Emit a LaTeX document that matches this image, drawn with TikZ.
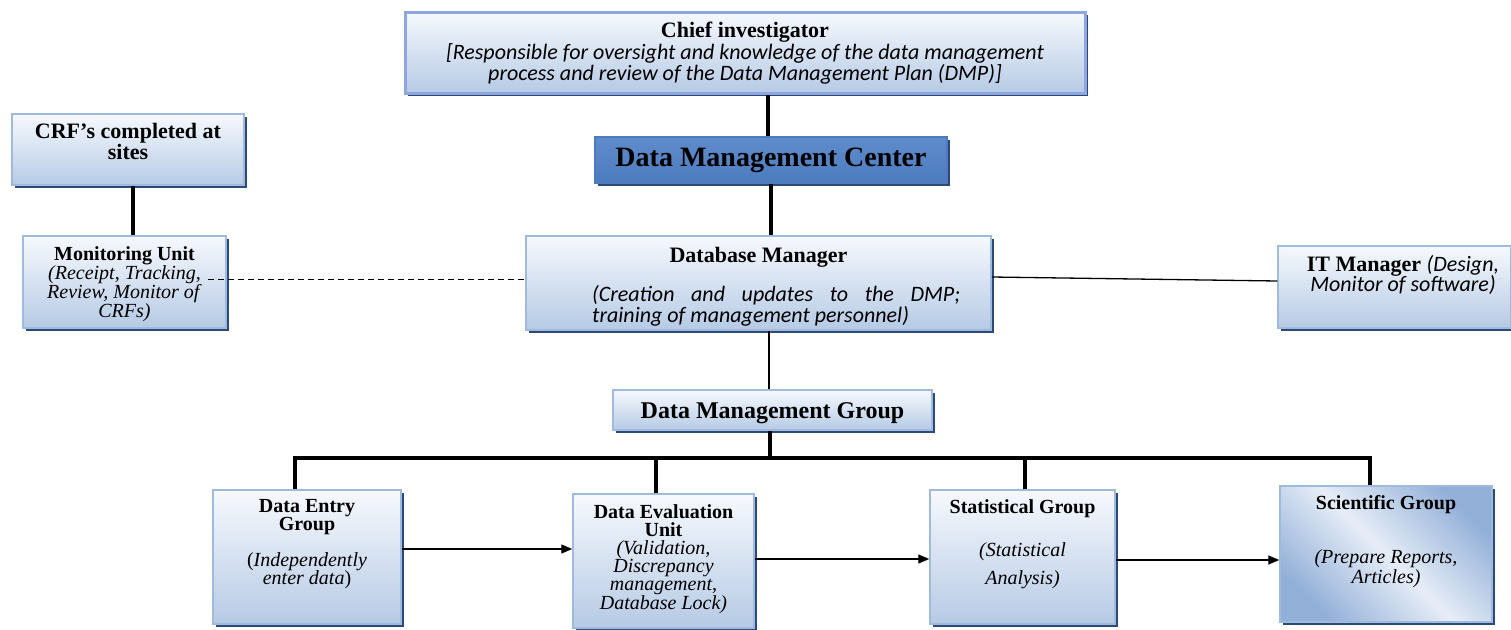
\documentclass[tikz,border=0pt]{standalone}
\usepackage{fontspec}
\setmainfont{Liberation Serif}
\newfontfamily\calfont{Carlito}
\usetikzlibrary{shadows,arrows.meta}
\definecolor{boxborder}{HTML}{9FBADD}
\definecolor{topc}{HTML}{F6F9FD}
\definecolor{botc}{HTML}{B6CAE5}
\definecolor{shadowc}{HTML}{2B4A78}
\definecolor{dmctop}{HTML}{5F8CCB}
\definecolor{dmcmid}{HTML}{A3BEE3}
\definecolor{dmcbot}{HTML}{4C7BBE}
\definecolor{scicorner}{HTML}{93B0D9}
\definecolor{scimid}{HTML}{E6EDF7}
\pgfdeclareverticalshading{scish}{100bp}{color(0bp)=(scicorner); color(25bp)=(scicorner); color(50bp)=(scimid); color(75bp)=(scicorner); color(100bp)=(scicorner)}
\newcommand\fsz[2]{\fontsize{#1}{#2}\selectfont\lineskiplimit=-30pt\relax}
\tikzset{
  box/.style={draw=boxborder, line width=1.5pt, top color=topc, bottom color=botc,
    inner sep=0pt, drop shadow={shadow xshift=3pt, shadow yshift=-3pt, fill=shadowc, opacity=1}},
  txt/.style={inner sep=0pt, align=center, text=black, anchor=base},
  thickline/.style={line width=3.2pt},
  thinline/.style={line width=1.3pt},
  dashline/.style={line width=1pt, dash pattern=on 6pt off 4pt},
  arr/.style={line width=1.4pt, -{Triangle[length=11pt,width=9pt]}}
}
\begin{document}
\begin{tikzpicture}[x=1pt,y=-1pt]
\useasboundingbox (0,0) rectangle (1511,629);
% boxes
\node[box, line width=3pt, draw=boxborder!90!blue, minimum width=680pt, minimum height=81pt] (chief) at (745,52.5) {};
\node[box, draw=dmcbot, top color=dmctop, middle color=dmcmid, bottom color=dmcbot, minimum width=352pt, minimum height=46pt] (dmc) at (771,160) {};
\node[box, minimum width=232pt, minimum height=71pt] (crf) at (128,149.5) {};
\node[box, minimum width=203pt, minimum height=92pt] (mon) at (124.5,282) {};
\node[box, minimum width=465pt, minimum height=94pt] (db) at (758.5,283) {};
\node[box, minimum width=233pt, minimum height=82pt] (it) at (1394.5,287) {};
\node[box, minimum width=319pt, minimum height=40pt] (dmg) at (772.5,410) {};
\node[box, minimum width=188pt, minimum height=134pt] (de) at (307,557) {};
\node[box, minimum width=181pt, minimum height=134pt] (ev) at (663.5,561) {};
\node[box, minimum width=185pt, minimum height=134pt] (st) at (1022.5,557) {};
\node[box, shading=scish, shading angle=-45, minimum width=212pt, minimum height=136pt] (sci) at (1386,554) {};
% texts (anchor base = baseline of the last line)
\node[txt, font=\fsz{22}{21.5}] (chieft) at (745,80.5) {\textbf{Chief investigator}\\
  {\calfont\itshape [Responsible for oversight and knowledge of the data management}\\
  {\calfont\itshape process and review of the Data Management Plan (DMP)]}};
\node[txt, font=\fsz{28}{30}\bfseries] (dmct) at (771,166.5) {Data Management Center};
\node[txt, font=\fsz{22}{21}\bfseries] (crft) at (128,159.5) {CRF’s completed at\\ sites};
\node[txt, font=\fsz{20}{19}] (mont) at (124.5,317) {\textbf{Monitoring Unit}\\
  \textit{(Receipt, Tracking,}\\ \textit{Review, Monitor of}\\ \textit{CRFs)}};
\node[txt, font=\fsz{22}{24}\bfseries] (dbt) at (758.5,262) {Database Manager};
\node[txt, anchor=base west, align=left, font=\fsz{22}{21}] (dbi) at (592,322.5) {%
  \makebox[368pt][s]{\calfont\itshape (Creation and updates to the DMP;}\\
  {\calfont\itshape training of management personnel)}};
\node[txt, font=\fsz{22}{20}] (itt) at (1403,291.5) {\textbf{IT Manager} {\calfont\itshape (Design,}\\
  {\calfont\itshape Monitor of software)}};
\node[txt, font=\fsz{24}{26}\bfseries] (dmgt) at (772.5,418) {Data Management Group};
\node[txt, font=\fsz{20}{18}] (det) at (307,584) {\textbf{Data Entry}\\ \textbf{Group}\\[18pt]
  (\textit{Independently}\\ \textit{enter data})};
\node[txt, font=\fsz{20}{18.2}] (evt) at (663.5,609) {\textbf{Data Evaluation}\\ \textbf{Unit}\\
  \textit{(Validation,}\\ \textit{Discrepancy}\\ \textit{management,}\\ \textit{Database Lock)}};
\node[txt, font=\fsz{20}{22}\bfseries] (stt) at (1022.5,513) {Statistical Group};
\node[txt, font=\fsz{20}{28}\itshape] (sti) at (1022.5,584) {(Statistical\\ Analysis)};
\node[txt, font=\fsz{20}{22}\bfseries] (scit) at (1386,509) {Scientific Group};
\node[txt, font=\fsz{20}{20}\itshape] (scii) at (1386,583) {(Prepare Reports,\\ Articles)};
% connectors
\draw[thickline] ([xshift=-3pt]dmc.north) -- ([xshift=-3pt]dmc.north |- chief.south);
\draw[thickline] (dmc.south) -- (dmc.south |- db.north);
\draw[thickline] ([xshift=5pt]crf.south) -- ([xshift=5pt]crf.south |- mon.north);
\draw[dashline] ([xshift=-19pt,yshift=3pt]mon.east) -- ([yshift=4pt]db.west);
\draw[thinline] ([yshift=6pt]db.east) -- ([yshift=6pt]it.west);
\draw[thinline] ([xshift=-3.5pt]dmg.north) -- ([xshift=-3.5pt]dmg.north |- db.south);
\coordinate (bl) at (295,458);
\coordinate (br) at (1370,458);
\draw[thickline] ([xshift=-2.5pt]dmg.south) -- ([xshift=-2.5pt]dmg.south |- bl);
\draw[thickline] ([xshift=-12pt]de.north) -- (bl) -- (br) -- ([xshift=-16pt]sci.north);
\draw[thickline] ([xshift=-7.5pt]ev.north) -- ([xshift=-7.5pt]ev.north |- bl);
\draw[thickline] ([xshift=2.5pt]st.north) -- ([xshift=2.5pt]st.north |- bl);
\draw[arr] ([yshift=8pt]de.east) -- ([yshift=8pt]de.east -| ev.west);
\draw[arr] ([yshift=2pt]ev.east) -- ([yshift=2pt]ev.east -| st.west);
\draw[arr] ([yshift=-3pt]st.east) -- ([yshift=-3pt]st.east -| sci.west);
\end{tikzpicture}
\end{document}
